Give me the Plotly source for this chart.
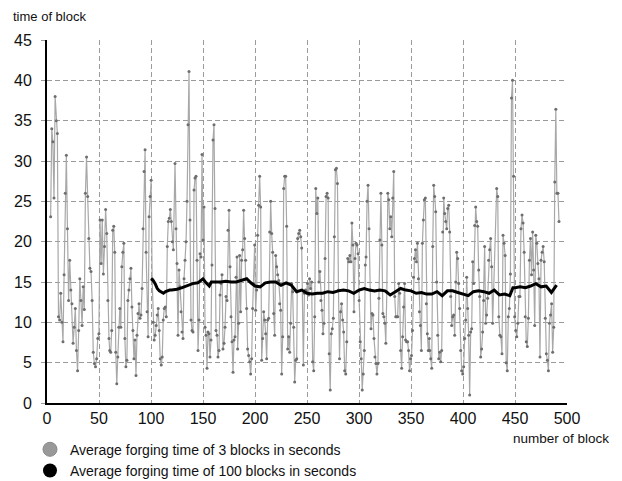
import numpy as np
import plotly.graph_objects as go

# ---- Data ----
# Gray series: average forging time of 3 blocks, read in 8 runs of consecutive blocks.
seg_bounds = [(3.5, 59.6), (60.3, 121.5), (123.1, 182.7), (183.3, 244.9),
              (246.5, 306.1), (306.8, 367.6), (368.0, 428.5), (432.4, 492.3)]

gray_run1 = [23.1, 34, 32.4, 25.4, 38, 35, 33.4, 10.7, 10.3, 13.6, 10, 7.6, 15.9, 26, 30.7, 21.6, 12.7, 17.7,
             14, 12.3, 7.4, 9.4, 11.7, 6.5, 4, 9, 15.4, 12.7, 9.6, 14.4, 11.6, 26, 30.5, 25.6, 20.4, 16.7, 16.3,
             12.7, 6.3, 4.9, 4.5, 5.5, 8, 8.6, 22.7, 17.3, 22.7, 16, 19.4, 24, 21, 12.7, 8]
gray_run2 = [6.5, 6.3, 9, 21.4, 21.9, 18.7, 6.3, 2.4, 5.7, 9.4, 11.7, 9.4, 16.9, 18.7, 19.8, 8, 4.5, 5.3, 12.7,
             14, 15.4, 16.7, 11.9, 9, 5.5, 7.8, 3.4, 8.4, 11.1, 12.3, 10.5, 10.9, 14.2, 21.6, 28.7, 31.4, 18.7,
             11.3, 8.2, 23.1, 25.6, 27.6, 15.4, 10, 7.8, 8.4, 9.6, 10.9, 11.7, 9, 5.5, 4.7, 5.7, 10.3, 11.7,
             11.9, 10.7, 19.4, 22.5, 22.9, 24, 22.5, 20, 19]
gray_run3 = [29.7, 21.6, 17.3, 8.4, 16.5, 14.4, 11.3, 8.8, 8, 15.4, 17.7, 20, 25, 34.5, 41.1, 22.7, 10.3, 9,
             8.8, 26.4, 27.9, 28.1, 17.7, 6.5, 10.3, 18.5, 18.1, 30.8, 20.2, 24.3, 9.4, 8.4, 4.3, 8.8, 8.6,
             5.7, 7.8, 17.1, 32.6, 34.5, 24.1, 9, 8.4, 5.7, 6.5, 13.4, 14.8, 15.9, 6.7, 7.4, 9.4, 13.2, 12.7,
             21.4, 23.9, 16.9, 10.7, 7.6, 3.8, 7.8, 8.2, 15.6, 18.1]
gray_run4 = [6.7, 9.9, 18.3, 11.3, 17.7, 19, 23.9, 20.4, 17.7, 11.7, 6.7, 5.9, 5.1, 3.6, 5.5, 11.7, 14.8,
             19.6, 11.5, 14, 20.8, 24.5, 28.1, 24.3, 5.3, 8, 11.3, 10.3, 8.6, 5.5, 10.3, 10.5, 21.2, 25, 21,
             18.7, 11.1, 8.4, 18.3, 16.9, 15.9, 15.2, 12.3, 11.5, 3.6, 8.2, 26.6, 28.1, 28.1, 21.9, 6.7, 8.2,
             6.3, 9.9, 14.8, 13.8, 9.4, 2.6, 5.3, 5.5, 20.4, 21, 21.4, 20.6, 19.2]
gray_run5 = [4.7, 13.6, 14, 13.8, 14.8, 13.4, 15.4, 14.2, 15, 5.1, 4, 10.7, 26.6, 23.5, 25.4, 15, 16.3, 12.7,
             11.5, 8.6, 9.9, 17.9, 25.6, 26, 25.4, 6.1, 1.6, 8.6, 9.2, 10.5, 20.6, 28.9, 29.1, 27.2, 14, 5.5,
             11.3, 12.3, 10.3, 8.8, 4, 3.6, 7.6, 17.9, 17.5, 18.3, 17.5, 22.3, 19.6, 11.3, 17.9, 19.8, 19.6,
             18.5, 12.7, 7.6, 5.5, 1.6, 3.6, 6.5, 17.1]
gray_run6 = [18.1, 25, 27, 21.6, 14, 9.2, 11.1, 10.9, 8, 5.7, 4.9, 3.6, 4.9, 13, 20.2, 26, 19.6, 11.1, 10.7,
             9.9, 7.4, 13.8, 26, 25.2, 21.6, 23.1, 20.6, 25.4, 28.7, 13.2, 10.7, 10.7, 10.7, 14.8, 13.6, 6.5,
             4.3, 8.2, 11.9, 14.8, 7.8, 7.6, 7.6, 6.5, 4, 5.5, 5.9, 9, 15.6, 17.9, 19, 17.5, 19.8, 15.4, 11.3,
             9.6, 6.5, 19.8, 22.7, 25.2, 25.4, 12.3, 8.6, 6.5, 8]
gray_run7 = [6.5, 5.5, 4.3, 19.4, 27, 25.6, 23.7, 15, 8.4, 5.5, 6.3, 5.1, 6.5, 21.2, 25.4, 23.5, 22.5, 21.6,
             24.1, 24.5, 21.2, 13.2, 9.6, 10.7, 10.9, 8.4, 15, 18.7, 17.9, 14.8, 11.7, 6.5, 4, 3.6, 4.5, 8,
             10.3, 15.6, 11.7, 8.4, 1, 8.8, 9.2, 17.5, 14.8, 22, 24.3, 22.5, 21.9, 16.5, 13.2, 5.7, 6.7, 8.8,
             12.7, 19.4, 9.9, 10.9, 13, 17.7, 19, 20.4, 16.9, 9.9]
gray_run8 = [26.6, 25.6, 10.7, 8.4, 8.2, 6.1, 20.8, 19.8, 18.3, 5, 4, 10.7, 11.7, 16, 37.8, 40, 28.1, 10.7, 9,
             8.2, 9.9, 13.2, 13.2, 21.6, 23.3, 22.3, 18.7, 10.7, 7.6, 7, 10.5, 17.7, 20.4, 15.9, 21.2, 16.5,
             9.6, 20.8, 19.8, 17.3, 15.4, 5.7, 17.7, 18.7, 19.4, 17.5, 10.5, 6.1, 5.3, 4, 9.9, 10.9, 12.3,
             6.3, 9.4, 27.4, 36.4, 26, 26, 22.5]
gray_runs = [gray_run1, gray_run2, gray_run3, gray_run4, gray_run5, gray_run6, gray_run7, gray_run8]

# Black series: average forging time of 100 blocks
black_x = [100, 102, 104, 106, 108, 110, 112, 114, 116, 118, 120, 125, 130, 135, 140, 145, 150, 153, 156,
           158, 162, 167, 172, 177, 182, 188, 192, 196, 200, 205, 210, 215, 220, 225, 230, 235, 240, 245,
           250, 255, 260, 265, 270, 275, 280, 285, 290, 295, 300, 305, 310, 315, 320, 325, 330, 335, 340,
           345, 350, 355, 360, 365, 370, 375, 380, 385, 390, 395, 400, 405, 410, 415, 420, 425, 430, 435,
           440, 445, 448, 450, 455, 460, 465, 470, 475, 480, 485, 488, 490]
black_y = [15.4, 15.2, 14.8, 14.2, 13.9, 13.7, 13.6, 13.8, 13.9, 14.0, 14.0, 14.1, 14.3, 14.6, 14.8, 14.9,
           15.4, 14.9, 14.5, 15.0, 15.0, 15.0, 15.1, 15.0, 15.0, 15.2, 15.4, 14.9, 14.5, 14.4, 14.9, 15.0,
           15.0, 14.6, 14.9, 14.6, 13.8, 14.0, 13.6, 13.5, 13.6, 13.6, 13.8, 13.7, 13.9, 14.0, 13.9, 13.6,
           14.0, 14.2, 14.0, 13.9, 14.0, 13.9, 13.4, 13.8, 14.2, 14.0, 13.9, 13.6, 13.7, 13.5, 13.5, 13.8,
           13.3, 13.9, 13.9, 13.7, 13.5, 13.3, 13.8, 13.9, 13.8, 13.6, 14.0, 13.4, 13.5, 13.3, 14.3, 14.3,
           14.4, 14.3, 14.5, 14.8, 14.4, 14.5, 13.7, 14.3, 14.6]

x_ticks = [0, 50, 100, 150, 200, 250, 300, 350, 400, 450, 500]
y_ticks = [0, 5, 10, 15, 20, 25, 30, 35, 40, 45]
legend_names = ["Average forging time of 3 blocks in seconds",
                "Average forging time of 100 blocks in seconds"]

# ---- Build ----
gray_x, gray_y = [], []
for (a, b), run in zip(seg_bounds, gray_runs):
    gray_x.extend(np.linspace(a, b, len(run)).tolist())
    gray_y.extend(run)

FONT = "Arial, 'Liberation Sans', sans-serif"
fig = go.Figure()
fig.add_trace(go.Scatter(x=gray_x, y=gray_y, mode="lines+markers",
                         line=dict(color="#a8a8a8", width=1.2),
                         marker=dict(color="#6e6e6e", size=3),
                         showlegend=False, hoverinfo="skip"))
fig.add_trace(go.Scatter(x=black_x, y=black_y, mode="lines",
                         line=dict(color="#000000", width=3),
                         showlegend=False, hoverinfo="skip"))
# legend entries (circles)
fig.add_trace(go.Scatter(x=[None], y=[None], mode="markers", name=legend_names[0],
                         marker=dict(color="#999999", size=14, line=dict(color="#8a8a8a", width=1))))
fig.add_trace(go.Scatter(x=[None], y=[None], mode="markers", name=legend_names[1],
                         marker=dict(color="#000000", size=14)))

grid = dict(showgrid=True, gridcolor="#9a9a9a", griddash="5px,3px", gridwidth=1)
fig.update_xaxes(range=[0, 500], tickvals=x_ticks, ticktext=[str(v) for v in x_ticks],
                 showline=True, linecolor="#000", linewidth=2, zeroline=False, automargin=False,
                 ticks="", tickfont=dict(family=FONT, size=16, color="#111"), **grid)
fig.update_yaxes(range=[0, 45], tickvals=y_ticks, ticktext=[str(v) for v in y_ticks],
                 showline=True, linecolor="#000", linewidth=2, zeroline=False, automargin=False,
                 ticks="outside", ticklen=4, tickcolor="#9a9a9a", ticklabelstandoff=6,
                 tickfont=dict(family=FONT, size=16, color="#111"), **grid)

# page has an 8px body margin: figure is 614x473 so that it fills the 622x481 window
fig.update_layout(
    width=614, height=473,
    margin=dict(l=39, r=55, t=32, b=78),
    paper_bgcolor="white", plot_bgcolor="white",
    font=dict(family=FONT, color="#111"),
    showlegend=True,
    legend=dict(xref="paper", yref="container", x=-0.0327, y=0.1,
                xanchor="left", yanchor="top",
                font=dict(family=FONT, size=14, color="#111"),
                bgcolor="rgba(0,0,0,0)", borderwidth=0, tracegroupgap=0),
    annotations=[
        dict(text="time of block", xref="paper", yref="paper", x=-0.0673, y=1.0882,
             xanchor="left", yanchor="top", showarrow=False, borderpad=0,
             font=dict(family=FONT, size=13, color="#111")),
        dict(text="number of block", xref="paper", yref="paper", x=1.0846, y=-0.0716,
             xanchor="right", yanchor="top", showarrow=False,
             font=dict(family=FONT, size=13.5, color="#111")),
    ],
)
fig.write_html("out.html")
